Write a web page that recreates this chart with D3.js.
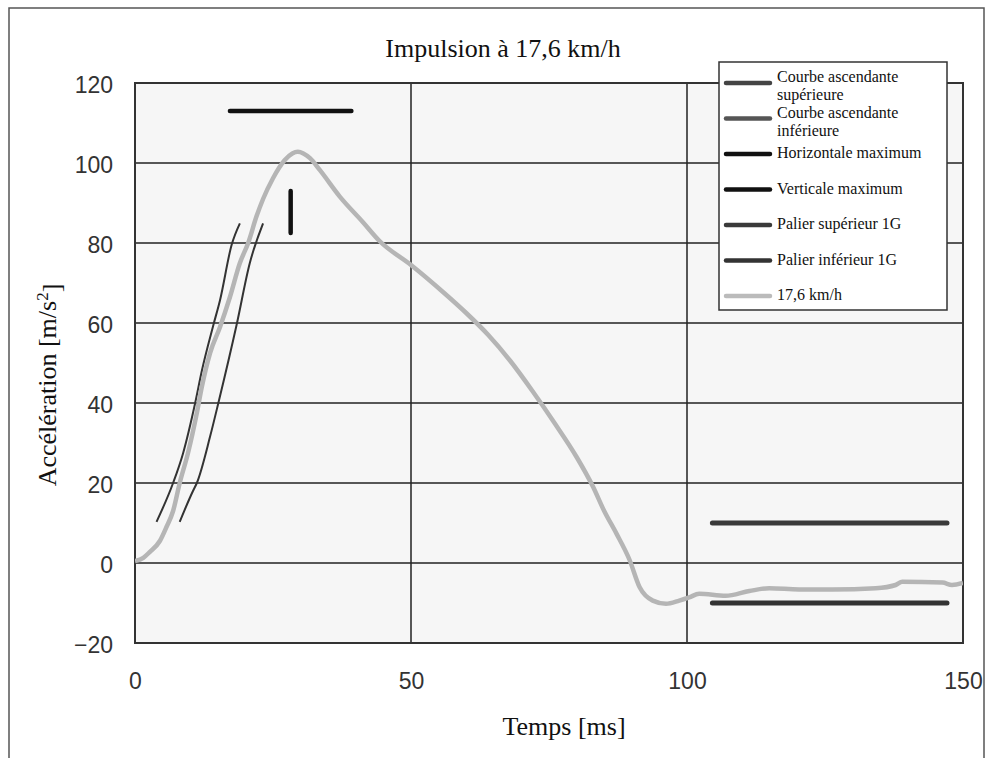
<!DOCTYPE html>
<html>
<head>
<meta charset="utf-8">
<script src="https://cdn.jsdelivr.net/npm/d3@7"></script>
<style>
  body { margin: 0; background: #fff; }
  svg text { font-family: "Liberation Serif", "Times New Roman", serif; fill: #111; }
  .tick text { font-family: "Liberation Sans", Arial, sans-serif; fill: #333; }
</style>
</head>
<body>
<div id="chart"></div>
<script>
// measured curve at 17,6 km/h
var curveTime  = [0, 1.5, 2.7, 4.5, 5.7, 6.9, 8.1, 9.6, 11.2, 12.1, 13.6, 15.4, 17.2, 19, 20.5, 22, 23.2, 25, 27.1, 28.5, 29.5, 30.5, 31.7, 33.5, 37.1, 41.3, 44.3, 50, 56, 60, 64, 68, 72, 76, 80, 83, 85, 87.2, 89.6, 91.4, 93.8, 96.2, 98.6, 100.4, 102.2, 107, 111.3, 114.9, 120.3, 126.3, 134.2, 137.8, 139, 146.3, 148, 150];
var curveAccel = [0.5, 1.3, 2.8, 5.5, 9, 13, 20, 27.5, 37.5, 44, 52.5, 59, 66.5, 75, 80, 86.6, 91, 96.2, 100.7, 102.4, 102.8, 102.4, 101.2, 98.2, 91.6, 85.2, 80.5, 74.5, 67.5, 62.5, 57, 50.5, 43, 35, 26.5, 19, 13, 7.4, 0.75, -6, -9.4, -10.2, -9.4, -8.6, -7.7, -8.2, -7, -6.3, -6.6, -6.6, -6.3, -5.5, -4.7, -4.9, -5.5, -5];

// corridor limits
var upperTime  = [3.9, 6.9, 8.7, 10.9, 12.1, 14.2, 15.4, 17.5, 19];
var upperAccel = [10.3, 20, 27.4, 40, 48, 59.5, 65.7, 79.5, 84.9];
var lowerTime  = [8.1, 10.5, 11.2, 13.6, 15.1, 18.4, 20.8, 23.2];
var lowerAccel = [10.3, 18, 20, 31.6, 40, 59.5, 75, 84.9];
var horizMaxTime = [17.2, 39.2], horizMaxAccel = 113;
var vertMaxTime = 28.2, vertMaxAccel = [82.5, 93];
var palierTime = [104.6, 147.1], palierSup = 10, palierInf = -10;

var xTicks = [0, 50, 100, 150];
var yTicks = [-20, 0, 20, 40, 60, 80, 100, 120];
var legendLabels = ["Courbe ascendante\nsupérieure", "Courbe ascendante\ninférieure", "Horizontale maximum",
                    "Verticale maximum", "Palier supérieur 1G", "Palier inférieur 1G", "17,6 km/h"];
var legendColors = ["#444", "#555", "#111", "#111", "#3a3a3a", "#333", "#bbb"];

var width = 985, height = 758;
var svg = d3.select("#chart").append("svg").attr("width", width).attr("height", height);

var x = d3.scaleLinear().domain([0, 150]).range([135, 963]);
var y = d3.scaleLinear().domain([-20, 120]).range([643, 83]);

// outer frame
svg.append("rect").attr("x", 9).attr("y", 8).attr("width", 975).attr("height", 770)
   .attr("fill", "none").attr("stroke", "#555").attr("stroke-width", 1.5);

// plot area
svg.append("rect").attr("x", x(0)).attr("y", y(120)).attr("width", x(150) - x(0)).attr("height", y(-20) - y(120))
   .attr("fill", "#f6f6f6");

// grid
svg.append("g").selectAll("line").data(yTicks).join("line")
   .attr("x1", x(0)).attr("x2", x(150)).attr("y1", d => y(d)).attr("y2", d => y(d))
   .attr("stroke", "#222").attr("stroke-width", 1.5);
svg.append("g").selectAll("line").data(xTicks).join("line")
   .attr("x1", d => x(d)).attr("x2", d => x(d)).attr("y1", y(120)).attr("y2", y(-20))
   .attr("stroke", "#222").attr("stroke-width", 1.5);
svg.append("rect").attr("x", x(0)).attr("y", y(120)).attr("width", x(150) - x(0)).attr("height", y(-20) - y(120))
   .attr("fill", "none").attr("stroke", "#333").attr("stroke-width", 2);

// axes (labels only)
var yAxis = svg.append("g").attr("transform", "translate(" + x(0) + ",0)")
   .call(d3.axisLeft(y).tickValues(yTicks).tickSize(0).tickPadding(22).tickFormat(d => d < 0 ? "\u2212" + Math.abs(d) : d));
var xAxis = svg.append("g").attr("transform", "translate(0," + y(-20) + ")")
   .call(d3.axisBottom(x).tickValues(xTicks).tickSize(0).tickPadding(30));
[xAxis, yAxis].forEach(function (a) {
  a.select(".domain").remove();
  a.selectAll("text").style("font-size", "23px");
});
yAxis.selectAll("text").attr("dy", "0.42em");

var clip = svg.append("clipPath").attr("id", "plotclip").append("rect")
   .attr("x", x(0)).attr("y", y(120)).attr("width", x(150) - x(0)).attr("height", y(-20) - y(120));
var plot = svg.append("g").attr("clip-path", "url(#plotclip)");

var line = d3.line().x(d => x(d[0])).y(d => y(d[1]));
var smooth = d3.line().x(d => x(d[0])).y(d => y(d[1])).curve(d3.curveMonotoneX);

plot.append("path").datum(d3.zip(upperTime, upperAccel)).attr("d", smooth)
   .attr("fill", "none").attr("stroke", "#333").attr("stroke-width", 2);
plot.append("path").datum(d3.zip(lowerTime, lowerAccel)).attr("d", smooth)
   .attr("fill", "none").attr("stroke", "#333").attr("stroke-width", 2);
plot.append("path").datum(horizMaxTime.map(t => [t, horizMaxAccel])).attr("d", line)
   .attr("fill", "none").attr("stroke", "#111").attr("stroke-width", 4.5).attr("stroke-linecap", "round");
plot.append("path").datum(vertMaxAccel.map(a => [vertMaxTime, a])).attr("d", line)
   .attr("fill", "none").attr("stroke", "#111").attr("stroke-width", 4.5).attr("stroke-linecap", "round");
plot.append("path").datum(palierTime.map(t => [t, palierSup])).attr("d", line)
   .attr("fill", "none").attr("stroke", "#3a3a3a").attr("stroke-width", 5).attr("stroke-linecap", "round");
plot.append("path").datum(palierTime.map(t => [t, palierInf])).attr("d", line)
   .attr("fill", "none").attr("stroke", "#333").attr("stroke-width", 5).attr("stroke-linecap", "round");
plot.append("path").datum(d3.zip(curveTime, curveAccel)).attr("d", smooth)
   .attr("fill", "none").attr("stroke", "#b5b5b5").attr("stroke-width", 4.5).attr("stroke-linejoin", "round");

// titles
svg.append("text").attr("x", 503).attr("y", 57).attr("text-anchor", "middle")
   .style("font-size", "26px").text("Impulsion à 17,6 km/h");
svg.append("text").attr("x", 564).attr("y", 735).attr("text-anchor", "middle")
   .style("font-size", "26px").text("Temps [ms]");
var yt = svg.append("text").attr("transform", "translate(56,385) rotate(-90)").attr("text-anchor", "middle")
   .style("font-size", "26px");
yt.append("tspan").text("Accélération [m/s");
yt.append("tspan").attr("dy", "-0.45em").style("font-size", "17px").text("2");
yt.append("tspan").attr("dy", "0.45em").text("]");

// legend
var lg = svg.append("g");
lg.append("rect").attr("x", 719).attr("y", 62).attr("width", 228).attr("height", 248)
   .attr("fill", "#fff").attr("stroke", "#333").attr("stroke-width", 1.5);
var items = lg.selectAll("g.item").data(legendLabels).join("g").attr("class", "item")
   .attr("transform", (d, i) => "translate(0," + (83 + i * 35.5) + ")");
items.append("line").attr("x1", 726).attr("x2", 770)
   .attr("stroke", (d, i) => legendColors[i]).attr("stroke-width", 4.5).attr("stroke-linecap", "round");
items.each(function (d) {
  var parts = d.split("\n");
  var t = d3.select(this).append("text").attr("x", 777).style("font-size", "16px");
  parts.forEach(function (p, k) {
    t.append("tspan").attr("x", 777)
     .attr("y", parts.length > 1 ? (k === 0 ? -1 : 17) : 4).text(p);
  });
});
</script>
</body>
</html>
